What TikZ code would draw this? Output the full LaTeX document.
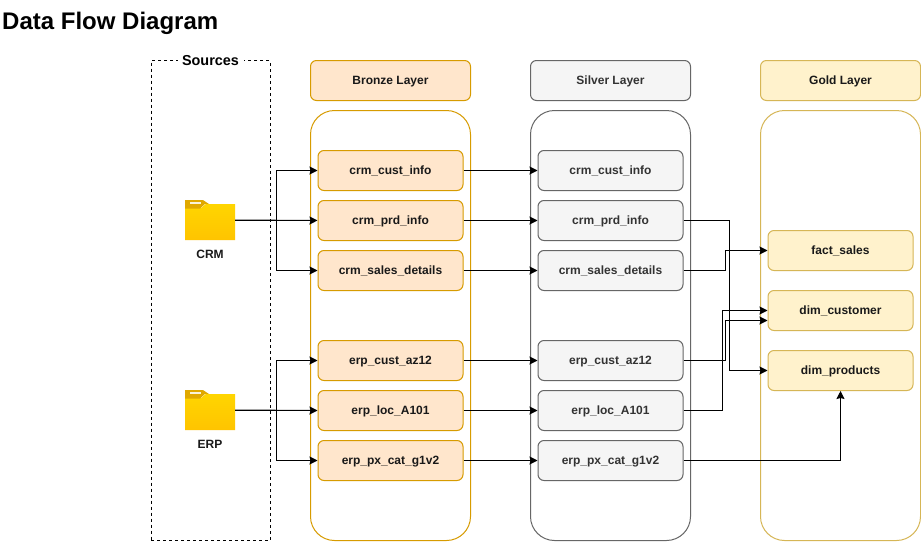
\documentclass[tikz,border=0pt]{standalone}
\usepackage{fontspec}
\setmainfont{Liberation Sans}
\usetikzlibrary{arrows.meta,calc}
\definecolor{bronzefill}{HTML}{FFE6CC}
\definecolor{bronzeline}{HTML}{D79B00}
\definecolor{silverfill}{HTML}{F5F5F5}
\definecolor{silverline}{HTML}{666666}
\definecolor{goldfill}{HTML}{FFF2CC}
\definecolor{goldline}{HTML}{D6B656}
\definecolor{silvertext}{HTML}{333333}
\definecolor{foldertop}{HTML}{FFD500}
\definecolor{folderbottom}{HTML}{FFC400}
\definecolor{foldertab}{HTML}{E0A800}
\tikzset{
  x=1pt,y=-1pt,
  lbl/.style={font=\fontsize{12}{14}\selectfont\bfseries,text=black!90,align=center,text height=9.6pt,text depth=2pt},
  box/.style={lbl,rounded corners=6pt,line width=1pt,inner sep=0pt},
  layerbox/.style={box,minimum width=160pt,minimum height=40pt},
  itembox/.style={box,minimum width=145pt,minimum height=40pt},
  container/.style={rounded corners=24pt,line width=1pt,minimum width=160pt,minimum height=430pt,inner sep=0pt},
  bronze/.style={draw=bronzeline,fill=bronzefill},
  silver/.style={draw=silverline,fill=silverfill,text=silvertext},
  gold/.style={draw=goldline,fill=goldfill},
  flow/.style={draw=black,line width=1pt,-{Stealth[length=8pt,width=8pt,inset=1pt]}},
  foldernode/.style={minimum width=50pt,minimum height=40pt,inner sep=0pt},
}
\begin{document}
\begin{tikzpicture}
\useasboundingbox (0,0) rectangle (921,541);
\fill[white] (0,0) rectangle (921,541);
\node[anchor=base west,inner sep=0pt,font=\fontsize{24}{28}\selectfont\bfseries] (title) at (2,29.5) {Data Flow Diagram};

% sources
\node[draw=black,line width=0.9pt,dash pattern=on 3pt off 3pt,minimum width=119pt,minimum height=480pt,inner sep=0pt] (src) at (210.5,300.5) {};
\node[fill=white,inner sep=0pt,minimum width=66pt,minimum height=18pt,font=\fontsize{14.4}{16}\selectfont\bfseries] (srclabel) at (210.5,60.5) {Sources};

% containers
\node[container,draw=bronzeline] (bc) at (390.5,325.5) {};
\node[container,draw=silverline] (sc) at (610.5,325.5) {};
\node[container,draw=goldline]   (gc) at (840.5,325.5) {};

% headers
\node[layerbox,bronze] (bh) at (390.5,80.5) {Bronze Layer};
\node[layerbox,silver] (sh) at (610.5,80.5) {Silver Layer};
\node[layerbox,gold]   (gh) at (840.5,80.5) {Gold Layer};

% bronze
\node[itembox,bronze] (b1) at (390.5,170.5) {crm\_cust\_info};
\node[itembox,bronze] (b2) at (390.5,220.5) {crm\_prd\_info};
\node[itembox,bronze] (b3) at (390.5,270.5) {crm\_sales\_details};
\node[itembox,bronze] (b4) at (390.5,360.5) {erp\_cust\_az12};
\node[itembox,bronze] (b5) at (390.5,410.5) {erp\_loc\_A101};
\node[itembox,bronze] (b6) at (390.5,460.5) {erp\_px\_cat\_g1v2};

% silver
\node[itembox,silver] (s1) at (610.5,170.5) {crm\_cust\_info};
\node[itembox,silver] (s2) at (610.5,220.5) {crm\_prd\_info};
\node[itembox,silver] (s3) at (610.5,270.5) {crm\_sales\_details};
\node[itembox,silver] (s4) at (610.5,360.5) {erp\_cust\_az12};
\node[itembox,silver] (s5) at (610.5,410.5) {erp\_loc\_A101};
\node[itembox,silver] (s6) at (610.5,460.5) {erp\_px\_cat\_g1v2};

% gold
\node[itembox,gold] (g1) at (840.5,250.5) {fact\_sales};
\node[itembox,gold] (g2) at (840.5,310.5) {dim\_customer};
\node[itembox,gold] (g3) at (840.5,370.5) {dim\_products};

% folders
\foreach \n/\cy/\t in {crm/220/CRM,erp/410/ERP}{
  \node[foldernode] (\n) at (210,\cy) {};
  \shade[top color=foldertop,bottom color=folderbottom] (185,\cy-12) -- (201,\cy-12) -- (206,\cy-16) -- (235,\cy-16) -- (235,\cy+20) -- (185,\cy+20) -- cycle;
  \fill[foldertab] (185,\cy-20) -- (203,\cy-20) -- (209,\cy-16) -- (205,\cy-16) -- (200,\cy-11.5) -- (185,\cy-11.5) -- cycle;
  \fill[white!85!foldertab] (190,\cy-18) rectangle (201,\cy-16);
  \node[lbl] (\n label) at (210,\cy+35) {\t};
}

% source flows
\draw[flow] (crm.east) -- ++(41,0) |- (b1.west);
\draw[flow] (crm.east) -- (b2.west);
\draw[flow] (crm.east) -- ++(41,0) |- (b3.west);
\draw[flow] (erp.east) -- ++(41,0) |- (b4.west);
\draw[flow] (erp.east) -- (b5.west);
\draw[flow] (erp.east) -- ++(41,0) |- (b6.west);

% bronze to silver
\foreach \i in {1,...,6}{ \draw[flow] (b\i.east) -- (s\i.west); }

% silver to gold
\draw[flow] (s2.east) -- ++(46,0) |- (g3.west);
\draw[flow] (s3.east) -- ++(42,0) |- (g1.west);
\draw[flow] (s4.east) -- ++(42,0) |- ($(g2.west)+(0,10)$);
\draw[flow] (s5.east) -- ++(39,0) |- (g2.west);
\draw[flow] (s6.east) -| (g3.south);
\end{tikzpicture}
\end{document}
